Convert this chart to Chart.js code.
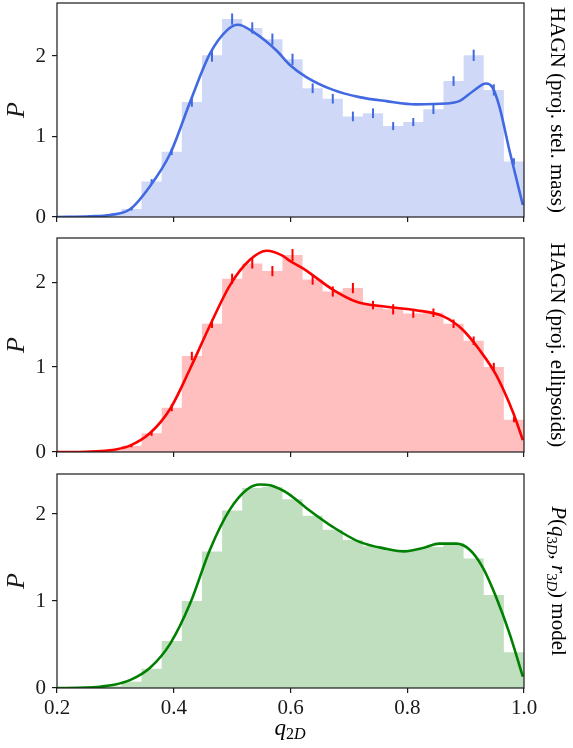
<!DOCTYPE html>
<html>
<head>
<meta charset="utf-8">
<script src="https://cdn.jsdelivr.net/npm/chart.js@4"></script>
<style>
  body { margin: 0; background: #fff; }
  #wrap { position: relative; width: 573px; height: 748px; overflow: hidden; background: #fff; }
  canvas { position: absolute; left: 0; }
  .side {
    position: absolute; left: 557px; white-space: nowrap;
    font-family: 'Liberation Serif', serif; font-size: 21px; color: #000;
    transform: translate(-50%, -50%) rotate(90deg);
  }
  .side sub, .xlab sub { font-size: 70%; vertical-align: -0.3em; }
  .xlab {
    position: absolute; left: 290px; top: 729px; white-space: nowrap;
    font-family: 'Liberation Serif', serif; font-size: 23px; color: #000;
    transform: translate(-50%, -50%);
  }
</style>
</head>
<body>
<div id="wrap">
  <canvas id="c1" width="573" height="237" style="top:0px"></canvas>
  <canvas id="c2" width="573" height="237" style="top:235px"></canvas>
  <canvas id="c3" width="573" height="277" style="top:471px"></canvas>
  <div class="side" style="top:110px">HAGN (proj. stel. mass)</div>
  <div class="side" style="top:345px">HAGN (proj. ellipsoids)</div>
  <div class="side" style="top:581px"><i>P</i>(<i>q</i><sub>3<i>D</i></sub>, <i>r</i><sub>3<i>D</i></sub>) model</div>
  <div class="xlab"><i>q</i><sub>2<i>D</i></sub></div>
</div>
<script>
// histogram: 29 bins on [0,1], only bins 6..28 are inside the plotted range
const N_BINS = 29;
const FIRST_BIN = 6;
const xTicks = [0.2, 0.4, 0.6, 0.8, 1.0];
const yTicks = [0, 1, 2];

// HAGN, projected stellar mass
const massHist = [0, 0.005, 0.03, 0.10, 0.44, 0.81, 1.43, 2.01, 2.46, 2.35, 2.21, 1.96,
  1.60, 1.47, 1.25, 1.29, 1.13, 1.18, 1.34, 1.69, 2.01, 1.58, 0.69];
const massErr = [0, 0, 0, 0.02, 0.03, 0.04, 0.06, 0.08, 0.07, 0.07, 0.07, 0.07,
  0.06, 0.06, 0.06, 0.06, 0.05, 0.05, 0.06, 0.06, 0.07, 0.07, 0.04];
const massCurveQ = [0.2, 0.257, 0.291, 0.325, 0.359, 0.394, 0.428, 0.462, 0.491, 0.510, 0.536,
  0.576, 0.599, 0.627, 0.673, 0.718, 0.764, 0.815, 0.867, 0.889, 0.912, 0.935, 0.946, 0.958, 0.975, 0.998];
const massCurveP = [0, 0.01, 0.025, 0.096, 0.38, 0.79, 1.43, 2.03, 2.32, 2.39, 2.30,
  2.07, 1.89, 1.74, 1.58, 1.49, 1.44, 1.40, 1.41, 1.44, 1.56, 1.66, 1.61, 1.37, 0.83, 0.15];

// HAGN, projected ellipsoids
const ellHist = [0, 0.003, 0.02, 0.075, 0.22, 0.52, 1.13, 1.51, 2.04, 2.22, 2.13, 2.32,
  2.03, 1.89, 1.93, 1.73, 1.68, 1.63, 1.64, 1.51, 1.31, 1.00, 0.38];
const ellErr = [0, 0, 0, 0.02, 0.03, 0.04, 0.05, 0.05, 0.06, 0.06, 0.06, 0.07,
  0.06, 0.06, 0.06, 0.05, 0.06, 0.05, 0.05, 0.05, 0.05, 0.05, 0.03];
const ellCurveQ = [0.2, 0.25, 0.274, 0.3, 0.325, 0.359, 0.394, 0.428, 0.462, 0.496, 0.530,
  0.559, 0.587, 0.599, 0.622, 0.673, 0.713, 0.764, 0.815, 0.861, 0.895, 0.924, 0.952, 0.981, 0.998];
const ellCurveP = [0, 0.003, 0.01, 0.03, 0.075, 0.22, 0.51, 0.98, 1.49, 1.96, 2.26,
  2.37, 2.31, 2.25, 2.16, 1.91, 1.77, 1.71, 1.67, 1.60, 1.44, 1.20, 0.91, 0.47, 0.14];

// P(q3D, r3D) model
const modelHist = [0, 0.003, 0.02, 0.073, 0.22, 0.54, 1.00, 1.57, 2.04, 2.30, 2.31, 2.17,
  1.98, 1.82, 1.70, 1.63, 1.59, 1.59, 1.62, 1.66, 1.49, 1.07, 0.41];
const modelCurveQ = [0.2, 0.25, 0.274, 0.3, 0.325, 0.359, 0.394, 0.428, 0.462, 0.496, 0.525,
  0.548, 0.565, 0.587, 0.599, 0.627, 0.673, 0.718, 0.764, 0.795, 0.827, 0.855, 0.884,
  0.907, 0.929, 0.952, 0.975, 0.998];
const modelCurveP = [0, 0.004, 0.015, 0.04, 0.09, 0.23, 0.51, 0.97, 1.59, 2.05, 2.28,
  2.34, 2.33, 2.27, 2.22, 2.07, 1.85, 1.68, 1.60, 1.57, 1.61, 1.66, 1.66,
  1.59, 1.39, 1.05, 0.63, 0.13];

const FONT = "'Liberation Serif', serif";
const INK = '#1a1a1a';

const binEdge = k => (FIRST_BIN + k) / N_BINS;
const binCenter = k => (FIRST_BIN + k + 0.5) / N_BINS;

// stepped outline of the histogram (one point per left edge + closing right edge)
function histPoints(vals) {
  const pts = vals.map((v, k) => ({ x: binEdge(k), y: v }));
  pts.push({ x: binEdge(vals.length), y: vals[vals.length - 1] });
  return pts;
}

const framePlugin = {
  id: 'frame',
  afterDraw(chart) {
    const { ctx, chartArea: a } = chart;
    ctx.save();
    ctx.strokeStyle = INK;
    ctx.lineWidth = 1.2;
    ctx.strokeRect(a.left, a.top, a.right - a.left, a.bottom - a.top);
    ctx.restore();
  },
};

const errPlugin = {
  id: 'errbars',
  afterDatasetsDraw(chart, args, opts) {
    if (!opts.vals) return;
    const { ctx, chartArea: a, scales: { x, y } } = chart;
    ctx.save();
    ctx.beginPath();
    ctx.rect(a.left, a.top, a.right - a.left, a.bottom - a.top);
    ctx.clip();
    ctx.strokeStyle = opts.color;
    ctx.lineWidth = 2;
    opts.vals.forEach((v, k) => {
      const e = opts.errs[k];
      if (!e) return;
      const px = x.getPixelForValue(binCenter(k));
      ctx.beginPath();
      ctx.moveTo(px, y.getPixelForValue(v - e));
      ctx.lineTo(px, y.getPixelForValue(v + e));
      ctx.stroke();
    });
    ctx.restore();
  },
};

function makePanel(id, o) {
  const canvas = document.getElementById(id);
  const xHeight = canvas.height - 3 - 214;
  new Chart(canvas, {
    type: 'line',
    data: {
      datasets: [{
        data: o.curveQ.map((q, i) => ({ x: q, y: o.curveP[i] })),
        borderColor: o.line,
        borderWidth: 2.6,
        pointRadius: 0,
        cubicInterpolationMode: 'monotone',
        fill: false,
        order: 0,
      }, {
        data: histPoints(o.hist),
        stepped: 'before',
        borderWidth: 0,
        borderColor: 'rgba(0,0,0,0)',
        backgroundColor: o.bar,
        pointRadius: 0,
        fill: 'origin',
        order: 1,
      }],
    },
    options: {
      responsive: false,
      animation: false,
      devicePixelRatio: 1,
      layout: { padding: { top: 3, right: 49, left: 0, bottom: 0 } },
      plugins: {
        legend: { display: false },
        tooltip: { enabled: false },
        errbars: { vals: o.errs ? o.hist : null, errs: o.errs, color: o.line },
      },
      scales: {
        x: {
          type: 'linear', min: 0.2, max: 1.0,
          afterBuildTicks: s => { s.ticks = xTicks.map(v => ({ value: v })); },
          afterFit: s => { s.height = xHeight; s.paddingLeft = 0; s.paddingRight = 0; },
          grid: { display: true, drawOnChartArea: false, drawTicks: true, tickLength: 5, color: INK, lineWidth: 1.2 },
          border: { display: false },
          ticks: {
            display: !!o.xLabels, autoSkip: false, maxRotation: 0, padding: 3,
            color: INK, font: { family: FONT, size: 21 },
            callback: v => v.toFixed(1),
          },
        },
        y: {
          min: 0, max: o.yMax,
          afterBuildTicks: s => { s.ticks = yTicks.map(v => ({ value: v })); },
          afterFit: s => { s.width = 57; s.paddingTop = 0; s.paddingBottom = 0; },
          grid: { display: true, drawOnChartArea: false, drawTicks: true, tickLength: 5, color: INK, lineWidth: 1.2 },
          border: { display: false },
          ticks: { padding: 6, color: INK, font: { family: FONT, size: 21 }, callback: v => String(v) },
          title: {
            display: true, text: 'P', color: INK,
            font: { family: FONT, size: 26, style: 'italic' },
            padding: { top: 2, bottom: 0 },
          },
        },
      },
    },
    plugins: [framePlugin, errPlugin],
  });
}

makePanel('c1', {
  hist: massHist, errs: massErr, curveQ: massCurveQ, curveP: massCurveP,
  line: '#4169e1', bar: 'rgba(65,105,225,0.25)', yMax: 2.66,
});
makePanel('c2', {
  hist: ellHist, errs: ellErr, curveQ: ellCurveQ, curveP: ellCurveP,
  line: '#ff0000', bar: 'rgba(255,0,0,0.25)', yMax: 2.52,
});
makePanel('c3', {
  hist: modelHist, curveQ: modelCurveQ, curveP: modelCurveP,
  line: '#008000', bar: 'rgba(0,128,0,0.25)', yMax: 2.46, xLabels: true,
});
</script>
</body>
</html>
